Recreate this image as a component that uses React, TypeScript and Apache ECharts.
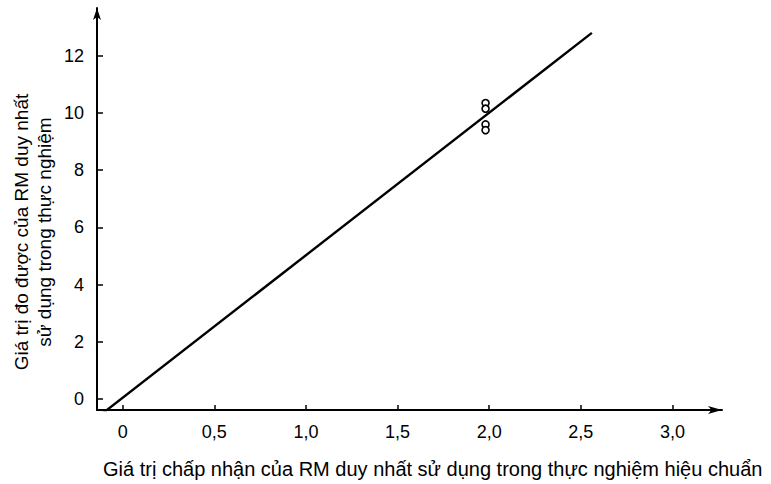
import React, { useEffect, useRef } from "react";
import * as echarts from "echarts";

// Fitted calibration line (two endpoints)
const fitX = [-0.11, 2.56];
const fitY = [-0.5, 12.8];

// Repeated measurements of the single RM
const measX = [1.98, 1.98, 1.98, 1.98];
const measY = [10.35, 10.15, 9.6, 9.4];

// Axis tick values
const xTicks = [0, 0.5, 1.0, 1.5, 2.0, 2.5, 3.0];
const yTicks = [0, 2, 4, 6, 8, 10, 12];

const xTitle = "Giá trị chấp nhận của RM duy nhất sử dụng trong thực nghiệm hiệu chuẩn";
const yTitleLines = ["Giá trị đo được của RM duy nhất", "sử dụng trong thực nghiệm"];

const FONT = "'Liberation Sans', Arial, sans-serif";

export default function App() {
  const ref = useRef<HTMLDivElement>(null);

  useEffect(() => {
    if (!ref.current) return;
    const chart = echarts.init(ref.current, null, { renderer: "svg" });
    chart.setOption({
      animation: false,
      backgroundColor: "#ffffff",
      grid: { left: 97, right: 49, top: 8, bottom: 74 },
      xAxis: {
        type: "value",
        min: -0.14,
        max: 3.27,
        splitLine: { show: false },
        axisLine: {
          onZero: false,
          lineStyle: { color: "#000", width: 2 },
          symbol: ["none", "arrow"],
          symbolSize: [6, 14],
        },
        axisTick: {
          inside: true,
          length: 5,
          customValues: xTicks,
          lineStyle: { color: "#000", width: 1.5 },
        },
        axisLabel: {
          customValues: xTicks,
          margin: 13,
          color: "#000",
          fontFamily: FONT,
          fontSize: 18,
          formatter: (v: number) => (v === 0 ? "0" : v.toFixed(1).replace(".", ",")),
        },
      },
      yAxis: {
        type: "value",
        min: -0.38,
        max: 13.67,
        splitLine: { show: false },
        axisLine: {
          onZero: false,
          lineStyle: { color: "#000", width: 2 },
          symbol: ["none", "arrow"],
          symbolSize: [6, 12],
        },
        axisTick: {
          inside: true,
          length: 6,
          customValues: yTicks,
          lineStyle: { color: "#000", width: 1.5 },
        },
        axisLabel: {
          customValues: yTicks,
          margin: 13,
          color: "#000",
          fontFamily: FONT,
          fontSize: 18,
          formatter: (v: number) => String(v),
        },
      },
      graphic: [
        {
          type: "text",
          left: 103,
          top: 459,
          style: {
            text: xTitle,
            fill: "#000",
            font: `20px ${FONT}`,
          },
        },
        {
          type: "text",
          x: 33,
          y: 232,
          rotation: Math.PI / 2,
          style: {
            text: yTitleLines.join("\n"),
            fill: "#000",
            font: `19px ${FONT}`,
            align: "center",
            verticalAlign: "middle",
            lineHeight: 23,
          },
        },
      ],
      series: [
        {
          type: "line",
          data: fitX.map((x, i) => [x, fitY[i]]),
          symbol: "none",
          lineStyle: { color: "#000", width: 2.4 },
          z: 2,
        },
        {
          type: "scatter",
          data: measX.map((x, i) => [x, measY[i]]),
          symbol: "circle",
          symbolSize: 7,
          itemStyle: { color: "#fff", borderColor: "#000", borderWidth: 1.6, opacity: 1 },
          z: 3,
        },
      ],
    });
    return () => chart.dispose();
  }, []);

  return (
    <div
      ref={ref}
      style={{ position: "fixed", left: 0, top: 0, width: 771, height: 484 }}
    />
  );
}
